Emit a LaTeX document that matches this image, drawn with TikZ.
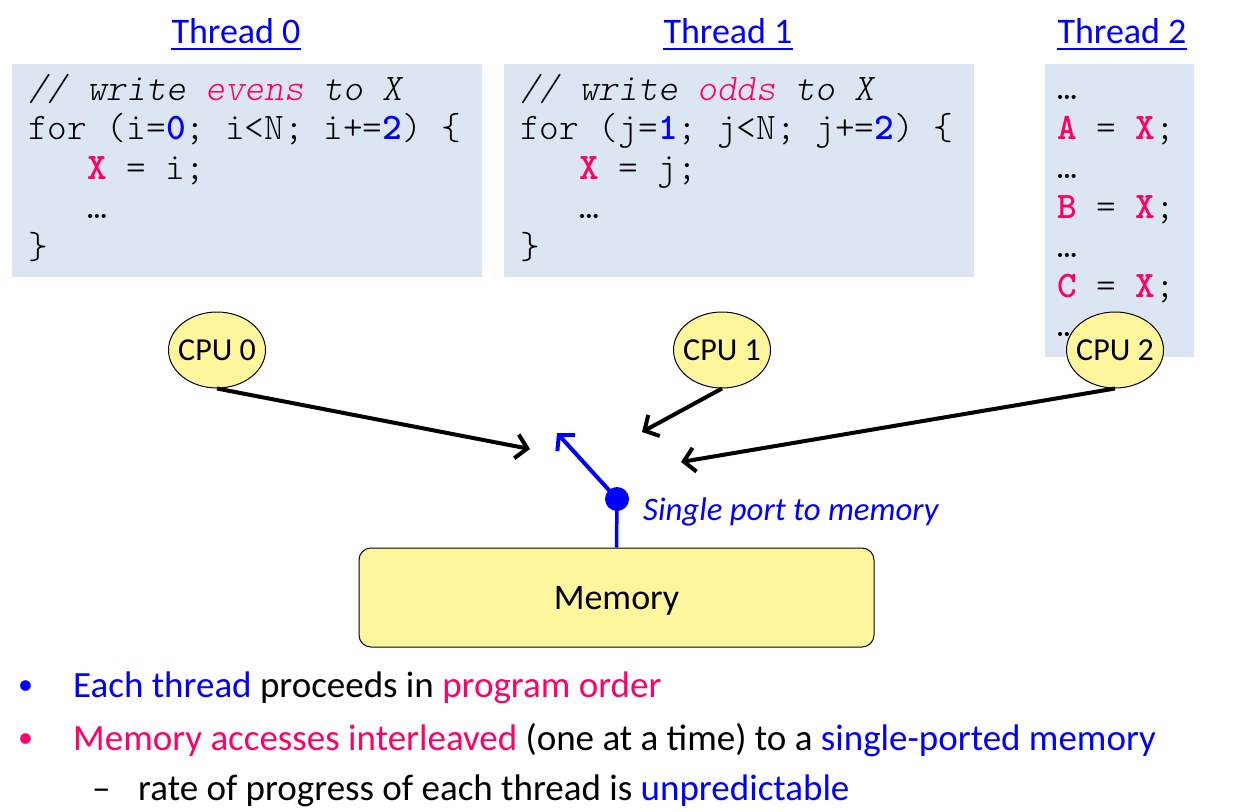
\documentclass[tikz,border=0pt]{standalone}
\usepackage{fontspec}
\setmainfont{Carlito}
\newfontfamily\codefont{lmmonolt10-regular.otf}[BoldFont=lmmonolt10-bold.otf, ItalicFont=lmmonolt10-oblique.otf]
\usepackage{xcolor}
\usepackage{tikz}
\usetikzlibrary{shapes.geometric,arrows.meta}

\definecolor{codebg}{HTML}{DCE6F2}
\definecolor{cpufill}{HTML}{FFF59D}
\definecolor{hotpink}{HTML}{FF0066}
\definecolor{portblue}{HTML}{0000FF}

\newcommand{\hl}[1]{\textcolor{hotpink}{\textbf{#1}}}
\newcommand{\nm}[1]{\textcolor{portblue}{\textbf{#1}}}
\newcommand{\ind}{\hphantom{xxx}}

\tikzset{
  codebox/.style={fill=codebg, inner sep=0pt, anchor=north west},
  code/.style={font=\codefont\fontsize{37.5}{39.5}\selectfont, inner sep=0pt, anchor=base west, align=left},
  thread/.style={text=portblue, font=\fontsize{36}{40}\selectfont, inner sep=0pt, anchor=base},
  cpu/.style={ellipse, draw=black, line width=1pt, fill=cpufill, minimum width=97pt, minimum height=76pt, inner xsep=-12pt, inner ysep=0pt, font=\fontsize{32}{36}\selectfont},
  wire/.style={line width=4pt, -{Straight Barb[length=11pt, width=24pt, line width=4pt]}},
  port/.style={circle, fill=portblue, minimum size=24pt, inner sep=0pt},
  mem/.style={draw=black, line width=1pt, fill=cpufill, rounded corners=12pt, minimum width=515pt, minimum height=99pt, text depth=0pt, font=\fontsize{36}{40}\selectfont},
  point/.style={font=\fontsize{37}{40}\selectfont, inner sep=0pt, anchor=base west},
  dot/.style={font=\fontsize{30}{40}\selectfont, inner sep=0pt, anchor=base west}
}

\begin{document}
\begin{tikzpicture}[x=1pt, y=-1pt]

    \useasboundingbox (0,0) rectangle (1241,811);

    % Thread titles
    \node[thread] (t0) at (236,43) {Thread 0};
    \node[thread] (t1) at (728,43) {Thread 1};
    \node[thread] (t2) at (1122,43) {Thread 2};
    \foreach \t in {t0,t1,t2}
        \draw[portblue, line width=2pt] ([yshift=-6pt]\t.base west) -- ([yshift=-6pt]\t.base east);

    % Code boxes
    \node[codebox, minimum width=470pt, minimum height=213pt] (box0) at (12,64) {};
    \node[codebox, minimum width=470pt, minimum height=213pt] (box1) at (504,64) {};
    \node[codebox, minimum width=149pt, minimum height=293pt] (box2) at (1045,64) {};

    % last line sits on the anchor
    \node[code] (code0) at ([xshift=16pt, yshift=-194pt]box0.north west)
        {\textit{// write \textcolor{hotpink}{evens} to X}\\
         for (i=\nm{0}; i<N; i+=\nm{2}) \{\\
         \ind\hl{X} = i;\\
         \ind…\\
         \}};
    \node[code] (code1) at ([xshift=16pt, yshift=-194pt]box1.north west)
        {\textit{// write \textcolor{hotpink}{odds} to X}\\
         for (j=\nm{1}; j<N; j+=\nm{2}) \{\\
         \ind\hl{X} = j;\\
         \ind…\\
         \}};
    \node[code] (code2) at ([xshift=12pt, yshift=-272.5pt]box2.north west)
        {…\\ \hl{A} = \hl{X};\\ …\\ \hl{B} = \hl{X};\\ …\\ \hl{C} = \hl{X};\\ …};

    % CPUs
    \node[cpu] (cpu0) at (217,350) {CPU 0};
    \node[cpu] (cpu1) at (722,350) {CPU 1};
    \node[cpu] (cpu2) at (1115,350) {CPU 2};

    % Arrow ends
    \coordinate (hit0) at (530,449);
    \coordinate (hit1) at (642,432);
    \coordinate (hit2) at (681,462);
    \coordinate (up) at (557,433);

    \draw[wire] (cpu0.south) -- (hit0);
    \draw[wire] (cpu1.south) -- (hit1);
    \draw[wire] (cpu2.south) -- (hit2);

    % Memory and its port
    \node[mem] (mem) at (616.5,597.5) {Memory};
    \node[port] (port) at (617,499) {};
    \draw[portblue, line width=3.5pt] (port.center) -- (mem.north);
    \draw[wire, portblue] (port.center) -- (up);
    \node[font=\itshape\fontsize{32.8}{36}\selectfont, text=portblue, inner sep=0pt, anchor=base west] (portlbl) at (643,520) {Single port to memory};

    % Points
    \node[dot, text=portblue] (d1) at (18,694) {\textbullet};
    \node[point] (p1) at (73,697) {\textcolor{portblue}{Each thread} proceeds in \textcolor{hotpink}{program order}};
    \node[dot, text=hotpink] (d2) at (18,747) {\textbullet};
    \node[point] (p2) at (73,750) {\textcolor{hotpink}{Memory accesses interleaved} (one at a time) to a \textcolor{portblue}{single-ported memory}};
    \node[point] (d3) at (92,800) {–};
    \node[point] (p3) at (138,800) {rate of progress of each thread is \textcolor{portblue}{unpredictable}};

\end{tikzpicture}
\end{document}
